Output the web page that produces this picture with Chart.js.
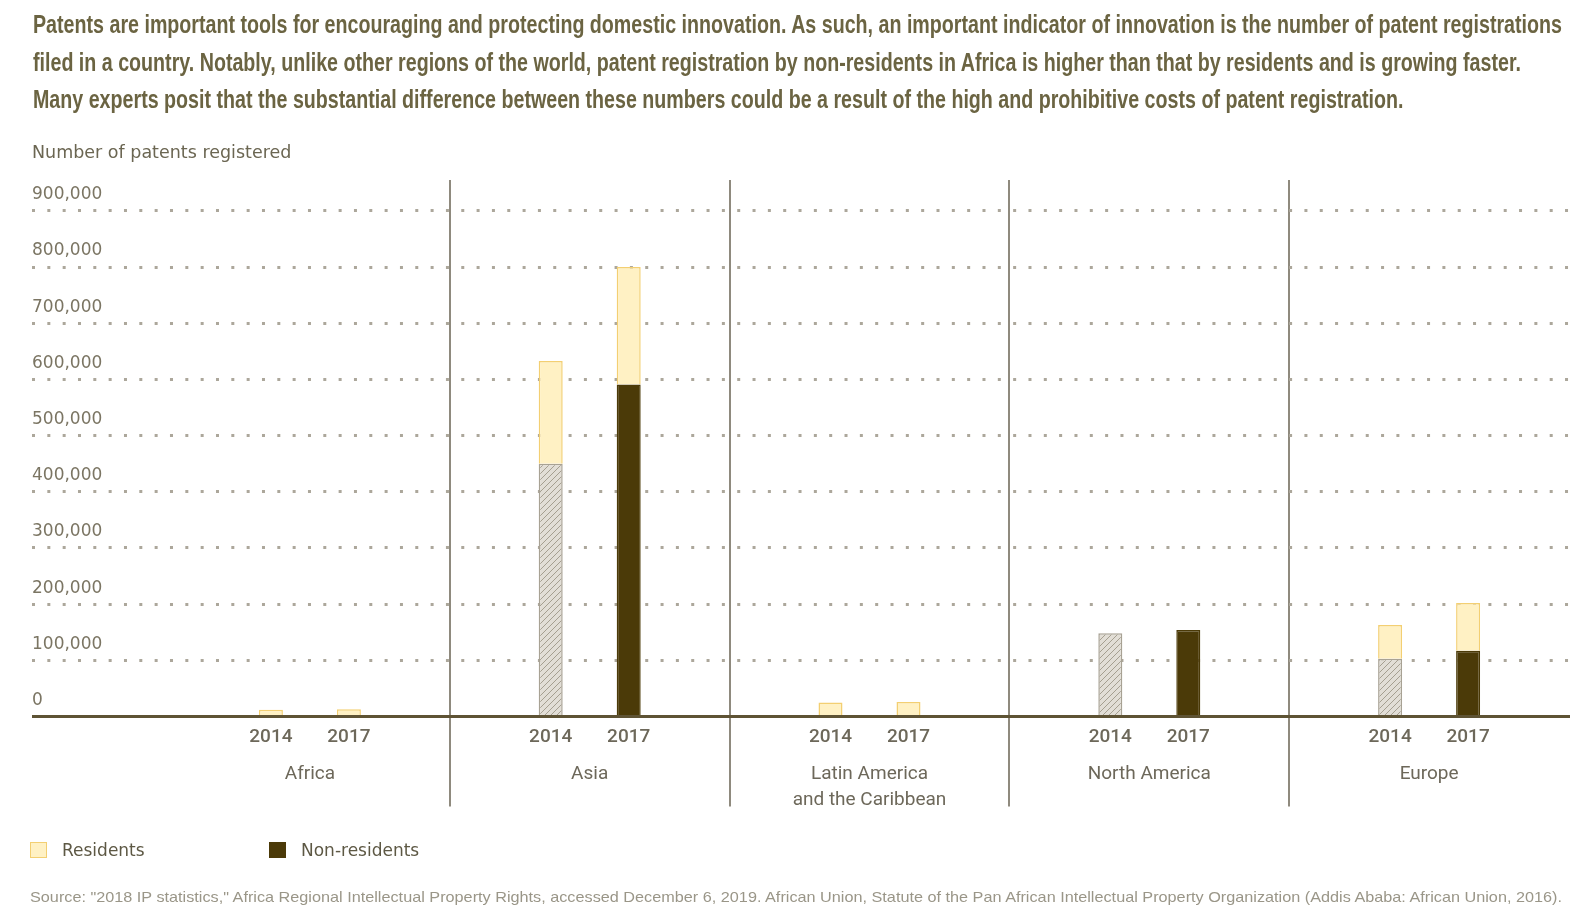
<!DOCTYPE html>
<html>
<head>
<meta charset="utf-8">
<script src="https://cdn.jsdelivr.net/npm/chart.js@4.4.1/dist/chart.umd.min.js"></script>
<style>
  html, body { margin: 0; padding: 0; background: #fff; }
  #page { position: relative; width: 1580px; height: 909px; overflow: hidden; }
  #wrap { position: absolute; left: 0; top: 0; width: 1580px; height: 909px; }
  #intro { position: absolute; left: 33px; top: 6px; font-family: 'Liberation Sans Narrow', sans-serif; font-weight: bold;
           font-size: 25px; line-height: 37.5px; color: #6b6442; transform-origin: 0 0; white-space: nowrap; }
  #intro span { display: inline-block; }
  .box { position: absolute; top: 842px; width: 15px; height: 14px; }
  .legtxt { position: absolute; top: 840px; font-family: 'DejaVu Sans', sans-serif; font-size: 17px; line-height: 20px; color: #5d5844; }
  #source { position: absolute; left: 30px; top: 887px; font-family: 'Liberation Sans Narrow', sans-serif; font-size: 15px;
            line-height: 20px; color: #9a9688; white-space: nowrap; transform-origin: 0 0; }
</style>
</head>
<body>
<div id="page">
  <div id="wrap"><canvas id="patentChart"></canvas></div>
  <div id="intro">
    <span id="introLine1">Patents are important tools for encouraging and protecting domestic innovation. As such, an important indicator of innovation is the number of patent registrations</span><br>
    <span>filed in a country. Notably, unlike other regions of the world, patent registration by non-residents in Africa is higher than that by residents and is growing faster.</span><br>
    <span>Many experts posit that the substantial difference between these numbers could be a result of the high and prohibitive costs of patent registration.</span>
  </div>
  <div class="box" style="left:30px; background:#fff1c4; border:1.5px solid #f3cf72;"></div>
  <div class="legtxt" style="left:62px;">Residents</div>
  <div class="box" style="left:269px; background:#4b3a08; border:1.5px solid #4b3a08;"></div>
  <div class="legtxt" style="left:301px;">Non-residents</div>
  <div id="source">Source: "2018 IP statistics," Africa Regional Intellectual Property Rights, accessed December 6, 2019. African Union, Statute of the Pan African Intellectual Property Organization (Addis Ababa: African Union, 2016).</div>
</div>
<script>
const regions = ['Africa', 'Asia', ['Latin America', 'and the Caribbean'], 'North America', 'Europe'];
const years = ['2014', '2017'];
const nonResidents2014 = [0, 450000, 0, 148000, 103000];
const residents2014 = [12000, 183000, 25000, 0, 60000];
const nonResidents2017 = [0, 591000, 0, 154000, 117000];
const residents2017 = [13000, 209000, 26000, 0, 85000];
const yTickValues = [0, 100000, 200000, 300000, 400000, 500000, 600000, 700000, 800000, 900000];

// fit the text blocks to the widths seen in the picture
function fitWidth(el, measureEl, target) {
  const w = measureEl.getBoundingClientRect().width;
  el.style.transform = 'scaleX(' + (target / w) + ')';
}
fitWidth(document.getElementById('intro'), document.getElementById('introLine1'), 1529);
fitWidth(document.getElementById('source'), document.getElementById('source'), 1532);

const axisColor = '#5e5334';
const dotColor = '#aca79b';
const dots = [3, 12.33];
const clear = 'rgba(0,0,0,0)';

// hatch for the 2014 non-resident bars
function hatch() {
  const c = document.createElement('canvas');
  c.width = 6; c.height = 6;
  const g = c.getContext('2d');
  g.fillStyle = '#e2ded6';
  g.fillRect(0, 0, 6, 6);
  g.strokeStyle = '#a59f90';
  g.lineWidth = 1;
  g.beginPath();
  g.moveTo(0, 6); g.lineTo(6, 0);
  g.moveTo(-3, 3); g.lineTo(3, -3);
  g.moveTo(3, 9); g.lineTo(9, 3);
  g.stroke();
  return g.createPattern(c, 'repeat');
}

const yearLabels = {
  id: 'yearLabels',
  afterDatasetsDraw(chart) {
    const ctx = chart.ctx;
    const y = chart.chartArea.bottom + 21;
    ctx.save();
    ctx.font = '500 19px Roboto';
    ctx.fillStyle = '#6d685a';
    ctx.textAlign = 'center';
    ctx.textBaseline = 'middle';
    [[0, years[0]], [2, years[1]]].forEach(([ds, yr]) => {
      chart.getDatasetMeta(ds).data.forEach(bar => ctx.fillText(yr, bar.x, y));
    });
    ctx.restore();
  }
};

const barOpts = { categoryPercentage: 0.5575, barPercentage: 0.3077, borderWidth: 1.5 };
// no separator on the outer left and right edges
const edgeLine = (c) => c.type !== 'tick' || c.index === 0;

new Chart(document.getElementById('patentChart'), {
  type: 'bar',
  data: {
    labels: regions,
    datasets: [
      { label: 'Non-residents', data: nonResidents2014, stack: '2014', backgroundColor: hatch(), borderColor: '#a8a294', ...barOpts },
      { label: 'Residents', data: residents2014, stack: '2014', backgroundColor: '#fff1c4', borderColor: '#f3cf72', ...barOpts },
      { label: 'Non-residents', data: nonResidents2017, stack: '2017', backgroundColor: '#4b3a08', borderColor: '#4b3a08', ...barOpts },
      { label: 'Residents', data: residents2017, stack: '2017', backgroundColor: '#fff1c4', borderColor: '#f3cf72', ...barOpts }
    ]
  },
  options: {
    responsive: true,
    maintainAspectRatio: false,
    animation: false,
    layout: { padding: { left: 32, right: 11, top: 143, bottom: 100 } },
    plugins: {
      legend: { display: false },
      tooltip: { enabled: false },
      title: {
        display: true,
        text: 'Number of patents registered',
        align: 'start',
        color: '#6b6652',
        font: { family: 'DejaVu Sans', size: 17.5, weight: 'normal' },
        padding: { top: 0, bottom: 16 }
      }
    },
    scales: {
      x: {
        stacked: true,
        afterFit: (s) => { s.height = 92.5; },
        grid: {
          offset: true,
          color: (c) => edgeLine(c) ? clear : '#8f8a7e',
          tickColor: (c) => edgeLine(c) ? clear : '#8f8a7e',
          lineWidth: 2,
          tickWidth: 2,
          tickLength: 90
        },
        border: { color: axisColor, width: 3 },
        ticks: {
          padding: -46,
          color: '#6d685a',
          font: { family: 'Roboto', size: 19, lineHeight: 1.4 }
        }
      },
      y: {
        stacked: true,
        min: 0,
        max: 955000,
        z: 1,
        afterFit: (s) => { s.width = 138; },
        afterBuildTicks: (s) => { s.ticks = yTickValues.map(v => ({ value: v })); },
        border: { display: false, dash: dots },
        grid: {
          color: (c) => c.tick && c.tick.value === 0 ? clear : dotColor,
          lineWidth: 3,
          tickLength: 138,
          tickWidth: 3,
          tickColor: (c) => c.tick && c.tick.value === 0 ? axisColor : dotColor,
          tickBorderDash: (c) => c.tick && c.tick.value === 0 ? [] : dots
        },
        ticks: {
          crossAlign: 'far',
          padding: 0,
          labelOffset: -16,
          color: '#7b7563',
          font: { family: 'DejaVu Sans', size: 17 },
          callback: (v) => v.toLocaleString('en-US')
        }
      }
    }
  },
  plugins: [yearLabels]
});
</script>
</body>
</html>
